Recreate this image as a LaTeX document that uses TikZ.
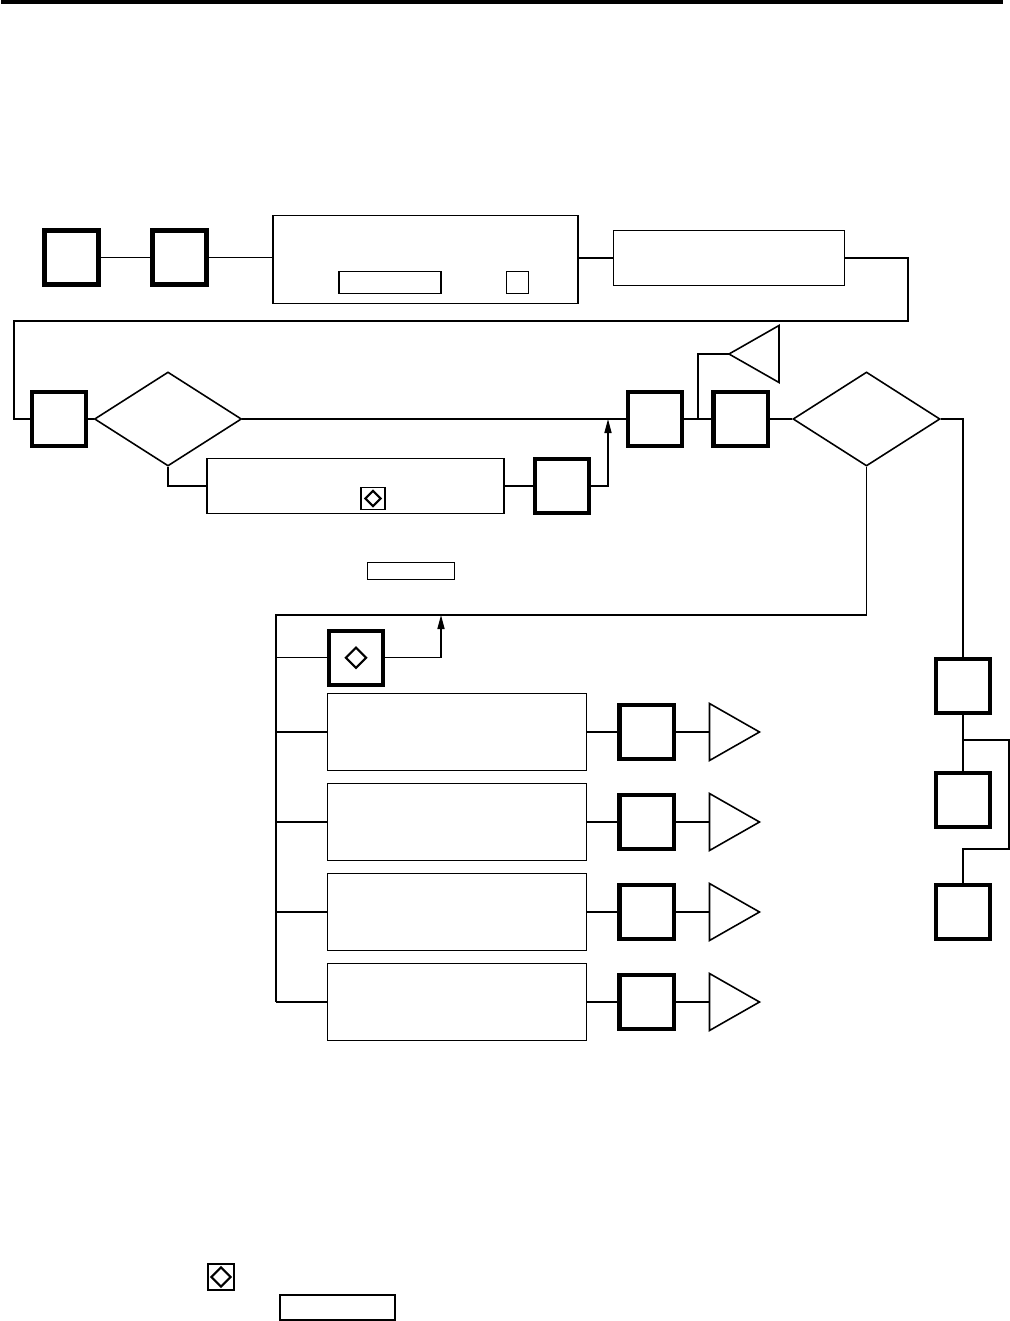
\documentclass[tikz,border=0pt]{standalone}
\usepackage{tikz}
\usetikzlibrary{arrows.meta, positioning, shapes.geometric, calc}

\begin{document}
\begin{tikzpicture}[x=0.01cm, y=-0.01cm, line width=0.45pt,
    blk/.style={draw, line width=1.15pt, minimum width=0.54cm, minimum height=0.54cm, inner sep=0pt},
    panel/.style={draw, inner sep=0pt},
    decision/.style={draw, diamond, minimum width=1.47cm, minimum height=0.94cm, inner sep=0pt},
    key/.style={draw, diamond, line width=0.6pt, inner sep=0pt},
    feed/.style={-{Triangle[length=1.4mm, width=0.7mm]}}]

    \useasboundingbox (0, 0) rectangle (1010, 1321);

    % Header rule
    \fill (1, 0) rectangle (1003, 3.5);

    % First row
    \node[blk] (start) at (71.5, 257.5) {};
    \node[blk] (init) at (179.5, 257.5) {};
    \node[panel, minimum width=3.05cm, minimum height=0.88cm] (setup) at (425.5, 259.5) {};
    \node[panel, minimum width=1.02cm, minimum height=0.22cm] (setfield) at (390, 282.5) {};
    \node[panel, minimum width=0.22cm, minimum height=0.22cm] (setkey) at (517.5, 282.5) {};
    \node[panel, minimum width=2.31cm, minimum height=0.55cm] (confirm) at (729, 258) {};

    \draw (start) -- (init);
    \draw (init.east) -- (init.east -| setup.west);
    \draw (confirm.west -| setup.east) -- (confirm.west);

    % Second row
    \node[blk] (loop) at (59, 419) {};
    \node[decision] (check) at (168, 419) {};
    \node[blk] (apply) at (655, 419) {};
    \node[blk] (store) at (740.5, 419) {};
    \node[decision] (select) at (866.5, 419) {};

    % Return line
    \draw (confirm.east) -| (908, 321) -| (14, 419) -- (loop.west);

    \draw (loop) -- (check);
    \draw (check) -- (apply);
    \draw (apply) -- (store);
    \draw (store) -- (select);

    % Warning output
    \coordinate (tap) at ($(apply.east)!0.5!(store.west)$);
    \coordinate (warn) at (729, 354);
    \draw (tap) |- (warn);
    \draw (warn) -- ++(50, -28.5) -- ++(0, 57) -- cycle;

    % Retry branch
    \node[panel, minimum width=2.97cm, minimum height=0.55cm] (retry) at (355.5, 486) {};
    \node[panel, minimum width=0.24cm, minimum height=0.22cm] (retrykey) at (373, 498.5) {};
    \node[key, minimum width=0.16cm, minimum height=0.16cm] (retrymark) at (retrykey) {};
    \node[blk] (recheck) at (562, 486) {};
    \coordinate (join1) at (608, 419);

    \draw (check.south) |- (retry.west);
    \draw (retry) -- (recheck);
    \draw[feed] (recheck.east) -| (join1);

    \node[panel, minimum width=0.87cm, minimum height=0.17cm] (note) at (411, 571) {};

    % Mode group
    \coordinate (bus) at (276, 615);
    \coordinate (join2) at (441, 615);
    \node[blk] (manual) at (356, 657.7) {};
    \node[key, minimum width=0.21cm, minimum height=0.21cm] (manualmark) at (manual) {};

    \foreach \i/\y in {1/732, 2/822, 3/912, 4/1002} {
        \node[panel, minimum width=2.59cm, minimum height=0.77cm] (mode\i) at (457, \y) {};
        \node[blk] (out\i) at (646.5, \y) {};
        \coordinate (lamp\i) at (709.5, \y);
        \draw (mode\i) -- (out\i);
        \draw (out\i) -- (lamp\i);
        \draw (lamp\i) -- ++(0, -28.5) -- ++(50, 28.5) -- ++(-50, 28.5) -- cycle;
        \draw (bus |- mode\i.west) -- (mode\i.west);
    }

    \draw (select.south) |- (bus) -- (bus |- mode4.west);
    \draw (bus |- manual.west) -- (manual.west);
    \draw[feed] (manual.east) -| (join2);

    % Save column
    \node[blk] (save) at (963, 686) {};
    \node[blk] (saveA) at (963, 800) {};
    \node[blk] (saveB) at (963, 912) {};
    \coordinate (fork) at (963, 740);

    \draw (select.east) -| (save.north);
    \draw (save) -- (saveA);
    \draw (fork) -| (1009, 849) -| (saveB.north);

    % Legend
    \node[panel, minimum width=0.26cm, minimum height=0.26cm] (legkey) at (221, 1277) {};
    \node[key, minimum width=0.2cm, minimum height=0.2cm] (legmark) at (legkey) {};
    \node[panel, minimum width=1.15cm, minimum height=0.25cm] (legfield) at (337.5, 1307.3) {};

\end{tikzpicture}
\end{document}
